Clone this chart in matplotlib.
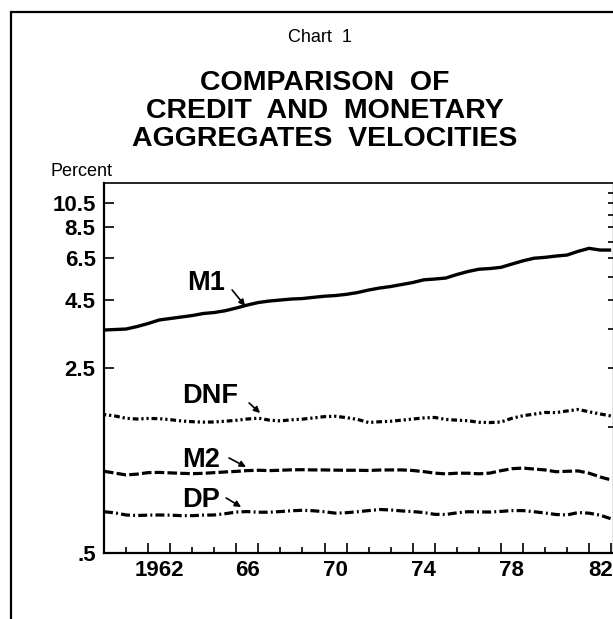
import numpy as np
import matplotlib
matplotlib.use("Agg")
import matplotlib.pyplot as plt
from matplotlib.ticker import NullLocator
from matplotlib.patches import Rectangle

plt.rcParams['font.family'] = ['Liberation Sans', 'DejaVu Sans']

# ---- data (half-yearly readings, 1960.0 .. 1983.0) ----
years = np.arange(1960.0, 1983.01, 0.5)
m1 = [3.479, 3.494, 3.509, 3.586, 3.681, 3.795, 3.845, 3.895, 3.946, 4.016,
      4.051, 4.115, 4.212, 4.324, 4.419, 4.477, 4.516, 4.555, 4.575, 4.623,
      4.668, 4.696, 4.746, 4.820, 4.926, 5.013, 5.079, 5.168, 5.258, 5.383,
      5.421, 5.468, 5.637, 5.786, 5.903, 5.939, 6.001, 6.176, 6.350, 6.496,
      6.546, 6.621, 6.679, 6.897, 7.079, 6.976, 6.976]
dnf = [1.668, 1.647, 1.614, 1.604, 1.612, 1.609, 1.595, 1.577, 1.567, 1.561,
       1.563, 1.574, 1.586, 1.604, 1.616, 1.588, 1.578, 1.593, 1.602, 1.619,
       1.638, 1.643, 1.623, 1.598, 1.556, 1.566, 1.573, 1.588, 1.604, 1.619,
       1.626, 1.598, 1.588, 1.580, 1.559, 1.555, 1.563, 1.614, 1.651, 1.673,
       1.698, 1.696, 1.720, 1.743, 1.708, 1.676, 1.647]
m2 = [1.018, 1.002, 0.986, 0.993, 1.006, 1.008, 1.004, 1.000, 0.997, 1.000,
      1.006, 1.012, 1.017, 1.024, 1.027, 1.024, 1.027, 1.031, 1.032, 1.030,
      1.030, 1.028, 1.027, 1.027, 1.025, 1.029, 1.030, 1.030, 1.025, 1.015,
      1.002, 0.995, 1.001, 1.001, 0.996, 1.002, 1.023, 1.041, 1.047, 1.038,
      1.030, 1.014, 1.018, 1.021, 1.001, 0.969, 0.944]
dp = [0.716, 0.709, 0.696, 0.693, 0.695, 0.696, 0.695, 0.692, 0.692, 0.695,
      0.696, 0.704, 0.714, 0.717, 0.713, 0.713, 0.717, 0.722, 0.725, 0.722,
      0.716, 0.707, 0.710, 0.716, 0.723, 0.730, 0.727, 0.721, 0.717, 0.711,
      0.700, 0.699, 0.709, 0.716, 0.715, 0.714, 0.718, 0.723, 0.723, 0.716,
      0.708, 0.699, 0.696, 0.711, 0.707, 0.695, 0.673]

series_names = ['M1', 'DNF', 'M2', 'DP']

y_left_ticks = [0.5, 2.5, 4.5, 6.5, 8.5, 10.5]
y_left_labels = ['.5', '2.5', '4.5', '6.5', '8.5', '10.5']
y_right_ticks = [0.5, 1.5, 2.5, 3.5, 4.5, 5.5, 6.5, 7.5, 8.5, 9.5, 10.5, 11.5]
x_long_ticks = [1962, 1963, 1966, 1967, 1970, 1971, 1974, 1975, 1978, 1979, 1982, 1983]
x_short_ticks = [1961, 1964, 1965, 1968, 1969, 1972, 1973, 1976, 1977, 1980, 1981]
x_label_pos = [1962.5, 1966.5, 1970.5, 1974.5, 1978.5, 1982.5]
x_labels = ['1962', '66', '70', '74', '78', '82']

# ---- figure ----
W, H = 613, 619
fig = plt.figure(figsize=(W / 100, H / 100), dpi=100)
ax = fig.add_axes([104 / W, 66 / H, (613.5 - 104) / W, 370 / H])

ax.plot(years, m1, color='black', lw=2.4, solid_capstyle='butt')
ax.plot(years, dnf, color='black', lw=2.3, dashes=(0.7, 0.9, 0.7, 0.9, 1.8, 0.9))
ax.plot(years, m2, color='black', lw=2.3, dashes=(3.0, 1.0))
ax.plot(years, dp, color='black', lw=2.3, dashes=(2.8, 1.0, 0.6, 1.0))

ax.set_yscale('log')
ax.set_ylim(0.5, 12.5)
ax.set_xlim(1960, 1960 + (613.5 - 104) / 22.05)

ax.set_yticks(y_left_ticks, labels=y_left_labels)
ax.yaxis.set_minor_locator(NullLocator())
ax.tick_params(axis='y', direction='in', length=7.5, width=1.2, pad=6,
               labelsize=16)
for t in ax.get_yticklabels():
    t.set_fontweight('bold')

ax.set_xticks(x_long_ticks)
ax.set_xticks(x_short_ticks, minor=True)
ax.tick_params(axis='x', which='major', direction='in', length=7.5, width=1.2,
               labelbottom=False)
ax.tick_params(axis='x', which='minor', direction='in', length=4, width=1.2)

sec = ax.secondary_xaxis('bottom')
sec.set_xticks(x_label_pos, labels=x_labels)
sec.tick_params(length=0, pad=5, labelsize=16)
sec.spines['bottom'].set_visible(False)
for t in sec.get_xticklabels():
    t.set_fontweight('bold')

secy = ax.secondary_yaxis('right')
secy.set_yticks(y_right_ticks)
secy.yaxis.set_minor_locator(NullLocator())
secy.tick_params(direction='in', length=4, width=1.2, labelright=False)
secy.spines['right'].set_visible(False)

for s in ['left', 'bottom']:
    ax.spines[s].set_linewidth(1.6)
ax.spines['top'].set_linewidth(1.2)
ax.spines['right'].set_linewidth(1.6)

# series labels and arrows
lab_kw = dict(fontsize=19.5, fontweight='bold', ha='left', va='baseline')
ax.text(1963.76, 4.93, series_names[0], **lab_kw)
ax.text(1963.54, 1.844, series_names[1], **lab_kw)
ax.text(1963.54, 1.057, series_names[2], **lab_kw)
ax.text(1963.54, 0.746, series_names[3], **lab_kw)
arr = dict(arrowstyle='-|>', lw=1.2, color='black', mutation_scale=9,
           shrinkA=0, shrinkB=0)
ax.annotate('', xy=(1966.40, 4.29), xytext=(1965.81, 4.93), arrowprops=arr)
ax.annotate('', xy=(1967.08, 1.690), xytext=(1966.58, 1.844), arrowprops=arr)
ax.annotate('', xy=(1966.44, 1.057), xytext=(1965.67, 1.143), arrowprops=arr)
ax.annotate('', xy=(1966.22, 0.746), xytext=(1965.54, 0.807), arrowprops=arr)

# titles
fig.text(320 / W, 1 - 37.5 / H, 'Chart  1', fontsize=13, ha='center', va='center')
tkw = dict(fontsize=20.5, fontweight='bold', ha='center', va='center')
fig.text(325 / W, 1 - 82.5 / H, 'COMPARISON  OF', **tkw)
fig.text(325 / W, 1 - 111 / H, 'CREDIT  AND  MONETARY', **tkw)
fig.text(325 / W, 1 - 139 / H, 'AGGREGATES  VELOCITIES', **tkw)
fig.text(51 / W, 1 - 172 / H, 'Percent', fontsize=13, ha='left', va='center')

# outer frame
frame = Rectangle((11 / W, -0.1), 1.5, 1.1 - 12 / H, transform=fig.transFigure,
                  fill=False, lw=1.6, edgecolor='black', clip_on=False)
fig.add_artist(frame)

fig.savefig('out.png', dpi=100)
